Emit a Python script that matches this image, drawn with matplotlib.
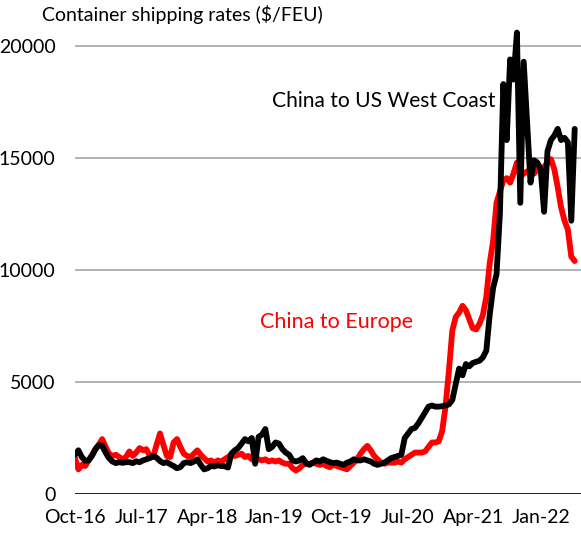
import matplotlib
matplotlib.use("Agg")
import matplotlib.pyplot as plt
import matplotlib.dates as mdates
import pandas as pd

# Fortnightly container freight rates, $ per forty-foot equivalent unit
start_date = "2016-10-01"

us_west_coast = [
    1750, 1950, 1650, 1480, 1500, 1700, 2000, 2180, 2150, 1850,
    1600, 1450, 1380, 1420, 1390, 1420, 1420, 1380, 1460, 1420,
    1500, 1550, 1600, 1700, 1620, 1470, 1380, 1420, 1330, 1250,
    1150, 1200, 1380, 1420, 1380, 1450, 1550, 1300, 1100, 1150,
    1250, 1230, 1280, 1250, 1240, 1180, 1800, 1950, 2050, 2250,
    2450, 2350, 2500, 1350, 2550, 2650, 2900, 2000, 2100, 2300,
    2250, 2000, 1850, 1750, 1500, 1450, 1500, 1600, 1380, 1300,
    1400, 1500, 1450, 1550, 1480, 1420, 1380, 1400, 1350, 1300,
    1400, 1450, 1550, 1500, 1500, 1550, 1500, 1450, 1350, 1300,
    1350, 1400, 1500, 1600, 1650, 1700, 1750, 2500, 2700, 2900,
    2950, 3150, 3400, 3650, 3900, 3950, 3900, 3900, 3920, 3950,
    4000, 4200, 4900, 5600, 5300, 5800, 5700, 5850, 5900, 5950,
    6100, 6400, 8000, 9200, 9800, 12500, 18300, 15800, 19400, 18500,
    20600, 13000, 19300, 16600, 13900, 14900, 14800, 14500, 12600, 15300,
    15800, 16000, 16300, 15800, 15900, 15700, 12200, 16300,
]

europe = [
    1600, 1100, 1300, 1250, 1500, 1750, 2000, 2200, 2450, 2100,
    1800, 1700, 1750, 1650, 1550, 1650, 1900, 1700, 1850, 2050,
    1950, 2000, 1700, 1650, 2200, 2700, 2200, 1700, 1650, 2300,
    2450, 2100, 1800, 1700, 1650, 1800, 1950, 1750, 1600, 1450,
    1500, 1400, 1500, 1450, 1550, 1650, 1750, 1700, 1750, 1800,
    1650, 1700, 1550, 1500, 1550, 1500, 1550, 1450, 1500, 1450,
    1500, 1400, 1350, 1350, 1150, 1050, 1150, 1300, 1350, 1350,
    1400, 1350, 1300, 1350, 1250, 1200, 1300, 1250, 1200, 1150,
    1100, 1250, 1400, 1550, 1800, 2000, 2150, 1950, 1700, 1550,
    1400, 1350, 1400, 1400, 1400, 1450, 1400, 1550, 1650, 1750,
    1850, 1850, 1850, 1900, 2100, 2300, 2300, 2350, 2800, 3900,
    5500, 7300, 7900, 8100, 8400, 8200, 7800, 7400, 7350, 7600,
    8000, 8800, 10300, 11300, 13000, 13500, 14000, 14100, 13900, 14300,
    14800, 14200, 14300, 14400, 14300, 14300, 14500, 14500, 14600, 14800,
    14950, 14500, 13700, 12800, 12200, 11800, 10600, 10400,
]

tick_dates = ["2016-10-01", "2017-07-01", "2018-04-01", "2019-01-01",
              "2019-10-01", "2020-07-01", "2021-04-01", "2022-01-01"]
y_ticks = [0, 5000, 10000, 15000, 20000]

dates = pd.date_range(start_date, periods=len(us_west_coast), freq="14D")

plt.rcParams["font.family"] = ["Lato", "DejaVu Sans"]
plt.rcParams["ytick.major.pad"] = 14
plt.rcParams["xtick.major.pad"] = 11
plt.rcParams["xtick.major.size"] = 0
plt.rcParams["ytick.major.size"] = 0

fig = plt.figure(figsize=(5.81, 5.35), dpi=100)
ax = fig.add_axes([75 / 581, 41 / 535, 506 / 581, 470.4 / 535])

ax.plot(dates, europe, color="#ff0000", lw=4.2, solid_joinstyle="round",
        solid_capstyle="round", zorder=3)
ax.plot(dates, us_west_coast, color="black", lw=4.2, solid_joinstyle="round",
        solid_capstyle="round", zorder=4)

ax.set_ylim(0, 21000)
ax.set_xlim(pd.Timestamp(start_date), pd.Timestamp("2022-06-16"))

ax.set_yticks(y_ticks)
ax.set_yticklabels([str(v) for v in y_ticks])
ax.set_xticks(pd.to_datetime(tick_dates))
ax.xaxis.set_major_formatter(mdates.DateFormatter("%b-%y"))

for v in y_ticks[1:]:
    ax.axhline(v, color="#b3b3b3", lw=1.4, zorder=1)
ax.axhline(0, color="black", lw=1.2, zorder=2)

for side in ["top", "right", "left", "bottom"]:
    ax.spines[side].set_visible(False)
ax.tick_params(axis="both", labelsize=14, colors="black")

fig.text(42 / 581, 1 - 15 / 535, "Container shipping rates ($/FEU)",
         fontsize=14, ha="left", va="center")

ax.text(pd.Timestamp("2018-12-21"), 17540, "China to US West Coast",
        color="black", fontsize=15.1, ha="left", va="center")
ax.text(pd.Timestamp("2018-11-01"), 7680, "China to Europe",
        color="#ff0000", fontsize=15.5, ha="left", va="center")

fig.savefig("out.png", dpi=100)
